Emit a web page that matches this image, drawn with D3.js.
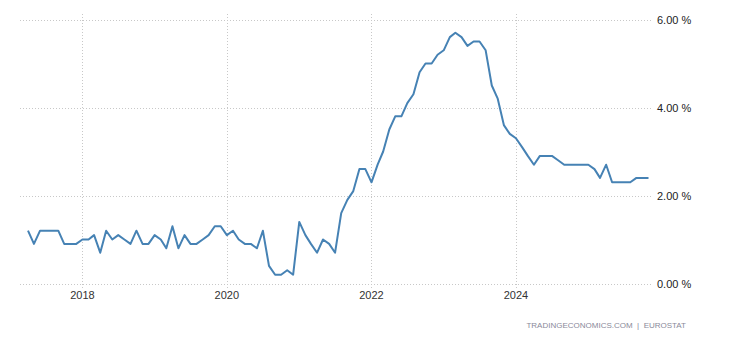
<!DOCTYPE html>
<html>
<head>
<meta charset="utf-8">
<script src="https://cdn.jsdelivr.net/npm/d3@7"></script>
<style>
  html, body { margin: 0; padding: 0; background: #fff; }
  svg { display: block; }
  text { font-family: "Liberation Sans", Arial, sans-serif; }
</style>
</head>
<body>
<svg id="chart" width="730" height="340"></svg>
<script>
// Euro area core inflation rate (%), monthly, Apr 2017 – Nov 2025
const startMonth = "2017-04";
const values = [
  // 2017 Apr–Dec
  1.2, 0.9, 1.2, 1.2, 1.2, 1.2, 0.9, 0.9, 0.9,
  // 2018
  1.0, 1.0, 1.1, 0.7, 1.2, 1.0, 1.1, 1.0, 0.9, 1.2, 0.9, 0.9,
  // 2019
  1.1, 1.0, 0.8, 1.3, 0.8, 1.1, 0.9, 0.9, 1.0, 1.1, 1.3, 1.3,
  // 2020
  1.1, 1.2, 1.0, 0.9, 0.9, 0.8, 1.2, 0.4, 0.2, 0.2, 0.3, 0.2,
  // 2021
  1.4, 1.1, 0.9, 0.7, 1.0, 0.9, 0.7, 1.6, 1.9, 2.1, 2.6, 2.6,
  // 2022
  2.3, 2.7, 3.0, 3.5, 3.8, 3.8, 4.1, 4.3, 4.8, 5.0, 5.0, 5.2,
  // 2023
  5.3, 5.6, 5.7, 5.6, 5.4, 5.5, 5.5, 5.3, 4.5, 4.2, 3.6, 3.4,
  // 2024
  3.3, 3.1, 2.9, 2.7, 2.9, 2.9, 2.9, 2.8, 2.7, 2.7, 2.7, 2.7,
  // 2025 Jan–Nov
  2.7, 2.6, 2.4, 2.7, 2.3, 2.3, 2.3, 2.3, 2.4, 2.4, 2.4
];
const yTicks = [0, 2, 4, 6];
const xTickYears = [2018, 2020, 2022, 2024];
const sourceText = "TRADINGECONOMICS.COM  |  EUROSTAT";

const parse = d3.timeParse("%Y-%m");
const start = parse(startMonth);
const data = values.map((v, i) => ({ date: d3.timeMonth.offset(start, i), value: v }));

const svg = d3.select("#chart");

const x = d3.scaleTime()
  .domain([data[0].date, data[data.length - 1].date])
  .range([28, 648.5]);
const y = d3.scaleLinear().domain([0, 6]).range([283.5, 19.5]);

const gridLeft = 20, gridRight = 653;

// horizontal grid
svg.append("g").selectAll("line").data(yTicks).join("line")
  .attr("x1", gridLeft).attr("x2", gridRight)
  .attr("y1", d => Math.round(y(d)) + 0.5).attr("y2", d => Math.round(y(d)) + 0.5)
  .attr("stroke", "#c8c8c8").attr("stroke-width", 1)
  .attr("stroke-dasharray", "1,2");

// vertical grid
svg.append("g").selectAll("line").data(xTickYears).join("line")
  .attr("x1", d => Math.round(x(new Date(d, 0, 1))) + 0.5)
  .attr("x2", d => Math.round(x(new Date(d, 0, 1))) + 0.5)
  .attr("y1", 14).attr("y2", 289)
  .attr("stroke", "#c8c8c8").attr("stroke-width", 1)
  .attr("stroke-dasharray", "1,2");

// y labels
svg.append("g").selectAll("text").data(yTicks).join("text")
  .attr("x", 657).attr("y", d => y(d) + 4)
  .attr("font-size", 11).attr("fill", "#222")
  .text(d => d3.format(".2f")(d) + " %");

// x labels
svg.append("g").selectAll("text").data(xTickYears).join("text")
  .attr("x", d => x(new Date(d, 0, 1))).attr("y", 299)
  .attr("text-anchor", "middle")
  .attr("font-size", 11).attr("fill", "#333")
  .text(d => d);

// line
const line = d3.line().x(d => x(d.date)).y(d => y(d.value));
svg.append("path").datum(data)
  .attr("d", line)
  .attr("fill", "none")
  .attr("stroke", "#4682b4")
  .attr("stroke-width", 2)
  .attr("stroke-linejoin", "round");

// source
svg.append("text")
  .attr("x", 686).attr("y", 328)
  .attr("text-anchor", "end")
  .attr("font-size", 8).attr("fill", "#8a8a9a")
  .style("white-space", "pre")
  .text(sourceText);
</script>
</body>
</html>
